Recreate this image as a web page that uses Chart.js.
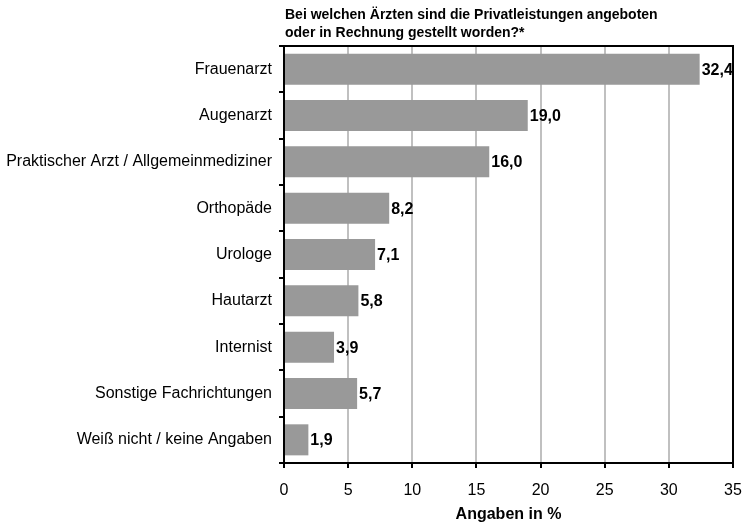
<!DOCTYPE html>
<html>
<head>
<meta charset="utf-8">
<script src="https://cdn.jsdelivr.net/npm/chart.js@4.4.1/dist/chart.umd.min.js"></script>
<style>
  html, body { margin: 0; padding: 0; background: #fff; }
  #wrap { width: 744px; height: 524px; }
</style>
</head>
<body>
<div id="wrap"><canvas id="aerzteChart" width="744" height="524"></canvas></div>
<script>
// Arztgruppen und Anteile (in %)
const categories = [
    'Frauenarzt',
    'Augenarzt',
    'Praktischer Arzt / Allgemeinmediziner',
    'Orthopäde',
    'Urologe',
    'Hautarzt',
    'Internist',
    'Sonstige Fachrichtungen',
    'Weiß nicht / keine Angaben'
];
const shares = [32.4, 19.0, 16.0, 8.2, 7.1, 5.8, 3.9, 5.7, 1.9];
const titleLines = [
    'Bei welchen Ärzten sind die Privatleistungen angeboten',
    'oder in Rechnung gestellt worden?*'
];
const xAxisTitle = 'Angaben in %';

const fontFamily = '"Liberation Sans", Arial, Helvetica, sans-serif';

// Titel oben links über dem Diagrammbereich
const titlePlugin = {
    id: 'titleLeft',
    afterDraw(chart) {
        const ctx = chart.ctx;
        const left = chart.chartArea.left + 1;
        ctx.save();
        ctx.fillStyle = '#000';
        ctx.font = 'bold 14px ' + fontFamily;
        ctx.textAlign = 'left';
        ctx.textBaseline = 'alphabetic';
        titleLines.forEach((line, i) => {
            ctx.fillText(line, left, 19 + i * 18);
        });
        ctx.restore();
    }
};

// Rahmen oben und rechts
const framePlugin = {
    id: 'frame',
    afterDraw(chart) {
        const { ctx, chartArea } = chart;
        ctx.save();
        ctx.strokeStyle = '#000';
        ctx.lineWidth = 2;
        ctx.beginPath();
        ctx.moveTo(chartArea.left, chartArea.top);
        ctx.lineTo(chartArea.right, chartArea.top);
        ctx.lineTo(chartArea.right, chartArea.bottom);
        ctx.stroke();
        ctx.restore();
    }
};

// Werte rechts neben den Balken
const valueLabels = {
    id: 'valueLabels',
    afterDatasetsDraw(chart) {
        const ctx = chart.ctx;
        const meta = chart.getDatasetMeta(0);
        ctx.save();
        ctx.fillStyle = '#000';
        ctx.font = 'bold 16px ' + fontFamily;
        ctx.textAlign = 'left';
        ctx.textBaseline = 'middle';
        meta.data.forEach((bar, i) => {
            const txt = shares[i].toFixed(1).replace('.', ',');
            ctx.fillText(txt, bar.x + 2, bar.y + 1);
        });
        ctx.restore();
    }
};

const ctx = document.getElementById('aerzteChart').getContext('2d');
const aerzteChart = new Chart(ctx, {
    type: 'bar',
    data: {
        labels: categories,
        datasets: [
            {
                data: shares,
                backgroundColor: '#999999',
                borderWidth: 0,
                barPercentage: 0.67,
                categoryPercentage: 1.0
            }
        ]
    },
    options: {
        indexAxis: 'y',
        responsive: false,
        animation: false,
        layout: {
            padding: { top: 46, right: 11, bottom: 0, left: 0 }
        },
        scales: {
            x: {
                min: 0,
                max: 35,
                ticks: {
                    stepSize: 5,
                    color: '#000',
                    padding: 13,
                    font: { family: fontFamily, size: 16 }
                },
                grid: {
                    color: '#c0c0c0',
                    lineWidth: 2,
                    tickColor: '#000',
                    tickLength: 5
                },
                border: { color: '#000', width: 2 },
                title: {
                    display: true,
                    text: xAxisTitle,
                    color: '#000',
                    padding: { top: 0, bottom: 0 },
                    font: { family: fontFamily, size: 16, weight: 'bold', lineHeight: 1.2 }
                },
                afterFit(scale) {
                    scale.height = 61;
                    scale.paddingLeft = 0;
                    scale.paddingRight = 0;
                }
            },
            y: {
                ticks: {
                    color: '#000',
                    padding: 7,
                    font: { family: fontFamily, size: 16 }
                },
                grid: {
                    drawOnChartArea: false,
                    tickColor: '#000',
                    tickLength: 5,
                    lineWidth: 2
                },
                border: { color: '#000', width: 2 },
                afterFit(scale) {
                    scale.width = 284;
                    scale.paddingTop = 0;
                    scale.paddingBottom = 0;
                }
            }
        },
        plugins: {
            legend: { display: false },
            tooltip: { enabled: false }
        }
    },
    plugins: [titlePlugin, framePlugin, valueLabels]
});
</script>
</body>
</html>
